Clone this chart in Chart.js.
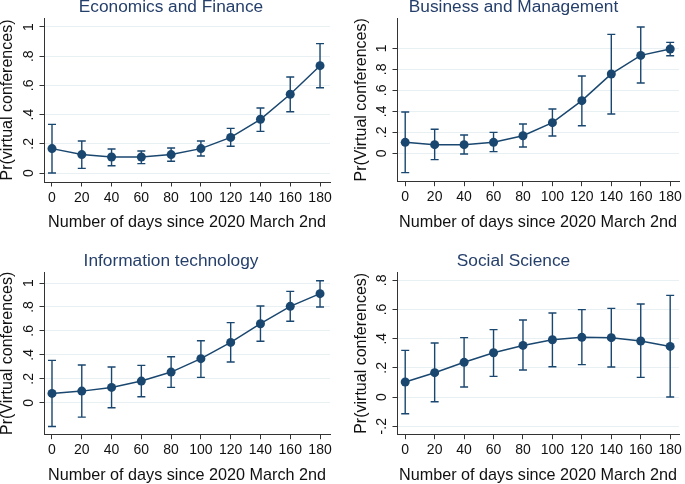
<!DOCTYPE html>
<html>
<head>
<meta charset="utf-8">
<script src="https://cdn.jsdelivr.net/npm/chart.js@4.4.1/dist/chart.umd.min.js"></script>
<style>
    body { margin: 0; background: #fff; }
    #wrap { position: relative; width: 685px; height: 484px; overflow: hidden; }
    .panel { position: absolute; height: 242px; }
</style>
</head>
<body>
<div id="wrap">
    <div class="panel" style="left:0;top:0;width:342px"><canvas id="c1"></canvas></div>
    <div class="panel" style="left:342px;top:0;width:343px"><canvas id="c2"></canvas></div>
    <div class="panel" style="left:0;top:242px;width:342px"><canvas id="c3"></canvas></div>
    <div class="panel" style="left:342px;top:242px;width:343px"><canvas id="c4"></canvas></div>
</div>
<script>
// days since 2020 March 2nd
var days = [0, 20, 40, 60, 80, 100, 120, 140, 160, 180];

// Economics and Finance
var econMean = [0.167, 0.126, 0.110, 0.110, 0.126, 0.167, 0.244, 0.368, 0.539, 0.735];
var econLow  = [0.000, 0.032, 0.050, 0.064, 0.080, 0.116, 0.183, 0.285, 0.420, 0.584];
var econHigh = [0.333, 0.219, 0.164, 0.151, 0.171, 0.219, 0.306, 0.445, 0.658, 0.886];

// Business and Management
var busMean = [0.105, 0.083, 0.083, 0.105, 0.168, 0.292, 0.502, 0.756, 0.933, 0.994];
var busLow  = [-0.184, -0.060, -0.006, 0.016, 0.060, 0.165, 0.263, 0.375, 0.670, 0.930];
var busHigh = [0.394, 0.229, 0.175, 0.200, 0.279, 0.422, 0.737, 1.133, 1.203, 1.057];

// Information technology
var itMean = [0.078, 0.097, 0.128, 0.181, 0.256, 0.368, 0.504, 0.660, 0.805, 0.911];
var itLow  = [-0.198, -0.120, -0.042, 0.050, 0.128, 0.212, 0.340, 0.513, 0.680, 0.800];
var itHigh = [0.354, 0.315, 0.298, 0.312, 0.384, 0.518, 0.669, 0.808, 0.930, 1.019];

// Social Science
var socMean = [0.103, 0.167, 0.238, 0.304, 0.354, 0.393, 0.409, 0.407, 0.384, 0.347];
var socLow  = [-0.114, -0.032, 0.069, 0.142, 0.185, 0.208, 0.222, 0.206, 0.135, 0.000];
var socHigh = [0.320, 0.370, 0.407, 0.462, 0.528, 0.576, 0.599, 0.608, 0.638, 0.697];

// tick values and labels
var xTicks = [0, 20, 40, 60, 80, 100, 120, 140, 160, 180];
var yTicks = [0, 0.2, 0.4, 0.6, 0.8, 1];
var yTickLabels = ['0', '.2', '.4', '.6', '.8', '1'];
var socTicks = [-0.2, 0, 0.2, 0.4, 0.6, 0.8];
var socTickLabels = ['-.2', '0', '.2', '.4', '.6', '.8'];

var NAVY = '#1a476f';
var FONT = '"Liberation Sans", Arial, sans-serif';

// error bars, panel title and rotated y tick labels
var stataPlugin = {
    id: 'stata',
    beforeDatasetsDraw: function(chart) {
        var o = chart.options.plugins.stata;
        var xs = chart.scales.x, ys = chart.scales.y, ctx = chart.ctx;
        ctx.save();
        ctx.strokeStyle = NAVY;
        ctx.lineWidth = 1.4;
        for (var i = 0; i < days.length; i++) {
            var px = xs.getPixelForValue(days[i]);
            var lo = ys.getPixelForValue(o.low[i]);
            var hi = ys.getPixelForValue(o.high[i]);
            ctx.beginPath();
            ctx.moveTo(px, lo); ctx.lineTo(px, hi);
            ctx.moveTo(px - 4, lo); ctx.lineTo(px + 4, lo);
            ctx.moveTo(px - 4, hi); ctx.lineTo(px + 4, hi);
            ctx.stroke();
        }
        ctx.restore();
    },
    afterDraw: function(chart) {
        var o = chart.options.plugins.stata;
        var ys = chart.scales.y, ctx = chart.ctx, area = chart.chartArea;
        ctx.save();
        // panel title
        ctx.fillStyle = '#253f6b';
        ctx.font = '17.3px ' + FONT;
        ctx.textAlign = 'center';
        ctx.textBaseline = 'alphabetic';
        ctx.fillText(o.title, chart.width / 2, area.top - 6.5);
        // y tick labels, rotated
        ctx.fillStyle = '#111';
        ctx.font = '14px ' + FONT;
        ys.ticks.forEach(function(t, i) {
            var py = ys.getPixelForValue(t.value);
            ctx.save();
            ctx.translate(area.left - 11, py);
            ctx.rotate(-Math.PI / 2);
            ctx.fillText(o.labels[i], 0, 0);
            ctx.restore();
        });
        ctx.restore();
    }
};

function makePanel(id, p) {
    var points = days.map(function(d, i) { return {x: d, y: p.mean[i]}; });
    return new Chart(document.getElementById(id), {
        type: 'line',
        data: {
            datasets: [{
                data: points,
                borderColor: NAVY,
                borderWidth: 1.5,
                pointRadius: 4.5,
                pointHoverRadius: 4.5,
                pointBackgroundColor: NAVY,
                pointBorderWidth: 0,
                tension: 0
            }]
        },
        options: {
            responsive: true,
            maintainAspectRatio: false,
            animation: false,
            layout: { padding: { left: 0, right: p.right, top: p.top, bottom: 0 } },
            plugins: {
                legend: { display: false },
                tooltip: { enabled: false },
                stata: { title: p.title, low: p.low, high: p.high, labels: p.tickLabels }
            },
            scales: {
                x: {
                    type: 'linear',
                    min: p.xMin, max: p.xMax,
                    afterBuildTicks: function(s) { s.ticks = xTicks.map(function(v) { return {value: v}; }); },
                    afterFit: function(s) { s.height = p.xAxisH; },
                    border: { color: '#333', width: 1 },
                    grid: { color: 'rgba(0,0,0,0)', tickColor: '#333', tickLength: 4.5, drawTicks: true },
                    ticks: { color: '#111', font: { family: FONT, size: 14 }, padding: 3, maxRotation: 0, autoSkip: false },
                    title: {
                        display: true,
                        text: 'Number of days since 2020 March 2nd',
                        color: '#111',
                        font: { family: FONT, size: 16.2, lineHeight: 1 },
                        padding: { top: 0, bottom: p.xTitlePad }
                    }
                },
                y: {
                    min: p.yMin, max: p.yMax,
                    afterBuildTicks: function(s) { s.ticks = p.ticks.map(function(v) { return {value: v}; }); },
                    afterFit: function(s) { s.width = p.left; },
                    border: { color: '#333', width: 1 },
                    grid: { color: '#e8f0f3', lineWidth: 1, tickColor: '#333', tickLength: 4.5 },
                    ticks: { color: 'rgba(0,0,0,0)', autoSkip: false, font: { family: FONT, size: 14 } },
                    title: {
                        display: true,
                        text: p.yTitle,
                        color: '#111',
                        font: { family: FONT, size: 16, lineHeight: 1 },
                        padding: { top: p.yTitlePad, bottom: 0 }
                    }
                }
            }
        },
        plugins: [stataPlugin]
    });
}

makePanel('c1', {
    title: 'Economics and Finance', yTitle: 'Pr(virtual conferences)',
    mean: econMean, low: econLow, high: econHigh, ticks: yTicks, tickLabels: yTickLabels,
    left: 44, right: 12, top: 18, xAxisH: 60,
    xMin: -5.37, xMax: 186.7, yMin: -0.0616, yMax: 1.0616,
    xTitlePad: 11.5, yTitlePad: 0
});
makePanel('c2', {
    title: 'Business and Management', yTitle: 'Pr(Virtual conferences)',
    mean: busMean, low: busLow, high: busHigh, ticks: yTicks, tickLabels: yTickLabels,
    left: 55, right: 3, top: 18, xAxisH: 60.3,
    xMin: -5.58, xMax: 186.05, yMin: -0.27, yMax: 1.289,
    xTitlePad: 11.5, yTitlePad: 12
});
makePanel('c3', {
    title: 'Information technology', yTitle: 'Pr(Virtual conferences)',
    mean: itMean, low: itLow, high: itHigh, ticks: yTicks, tickLabels: yTickLabels,
    left: 44, right: 12, top: 30, xAxisH: 49.3,
    xMin: -5.37, xMax: 186.7, yMin: -0.267, yMax: 1.092,
    xTitlePad: 0.5, yTitlePad: 0
});
makePanel('c4', {
    title: 'Social Science', yTitle: 'Pr(virtual conferences)',
    mean: socMean, low: socLow, high: socHigh, ticks: socTicks, tickLabels: socTickLabels,
    left: 55, right: 3, top: 30, xAxisH: 49.3,
    xMin: -5.58, xMax: 186.05, yMin: -0.258, yMax: 0.857,
    xTitlePad: 0.5, yTitlePad: 12
});
</script>
</body>
</html>
